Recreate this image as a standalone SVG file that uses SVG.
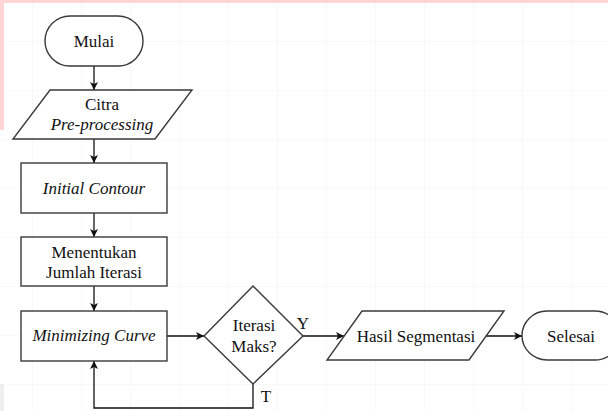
<svg xmlns="http://www.w3.org/2000/svg" width="608" height="411" viewBox="0 0 608 411">
<defs>
<pattern id="grid" x="32" y="41" width="49" height="49" patternUnits="userSpaceOnUse">
<path d="M0 0H49M0 0V49" fill="none" stroke="#f2f2f2" stroke-width="1"/>
</pattern>
<marker id="arr" viewBox="0 0 10 10" refX="10" refY="5" markerWidth="8" markerHeight="8" markerUnits="userSpaceOnUse" orient="auto">
<path d="M0 0L10 5L0 10L2.5 5Z" fill="#111"/>
</marker>
</defs>
<style>
.shape{fill:#fff;stroke:#3a3a3a;stroke-width:1.4}
.t{font-family:"Liberation Serif","Times New Roman",serif;font-size:17px;fill:#111;text-anchor:middle}
.i{font-style:italic}
.c{fill:none;stroke:#111;stroke-width:1.3;marker-end:url(#arr)}
</style>
<rect width="608" height="411" fill="#fff"/>
<rect width="608" height="411" fill="url(#grid)"/>
<rect x="0" y="0" width="608" height="3" fill="#ffd5d5"/>
<rect x="0" y="0" width="4" height="130" fill="#ffd5d5"/>
<rect x="0" y="384" width="4" height="27" fill="#efefef"/>

<g id="connectors">
<path class="c" d="M94 66V90"/>
<path class="c" d="M94 139V163"/>
<path class="c" d="M94 213V237"/>
<path class="c" d="M94 286V311"/>
<path class="c" d="M167 336H204"/>
<path class="c" d="M253 384V408H94V361"/>
<path class="c" d="M303 336H344"/>
<path class="c" d="M486 336H522"/>
<text class="t" x="303" y="329">Y</text>
<text class="t" x="266" y="402">T</text>
</g>

<g id="mulai">
<rect class="shape" x="45" y="16" width="98" height="50" rx="25" ry="25"/>
<text class="t" x="94" y="47">Mulai</text>
</g>

<g id="citra">
<polygon class="shape" points="50,90 192,90 155,139 13,139"/>
<text class="t" x="102" y="110">Citra</text>
<text class="t i" x="102" y="130">Pre-processing</text>
</g>

<g id="initial-contour">
<rect class="shape" x="21" y="163" width="146" height="50"/>
<text class="t i" x="94" y="194">Initial Contour</text>
</g>

<g id="menentukan">
<rect class="shape" x="21" y="237" width="146" height="49"/>
<text class="t" x="94" y="258">Menentukan</text>
<text class="t" x="94" y="278">Jumlah Iterasi</text>
</g>

<g id="minimizing-curve">
<rect class="shape" x="21" y="311" width="146" height="50"/>
<text class="t i" x="94" y="341">Minimizing Curve</text>
</g>

<g id="iterasi-maks">
<polygon class="shape" points="253,286 303,336 253,384 204,336"/>
<text class="t" x="254" y="331">Iterasi</text>
<text class="t" x="254" y="352">Maks?</text>
</g>

<g id="hasil-segmentasi">
<polygon class="shape" points="362,311 504,311 469,360 327,360"/>
<text class="t" x="416" y="342">Hasil Segmentasi</text>
</g>

<g id="selesai">
<rect class="shape" x="522" y="311" width="98" height="49" rx="25" ry="24.5"/>
<text class="t" x="571" y="342">Selesai</text>
</g>
</svg>
